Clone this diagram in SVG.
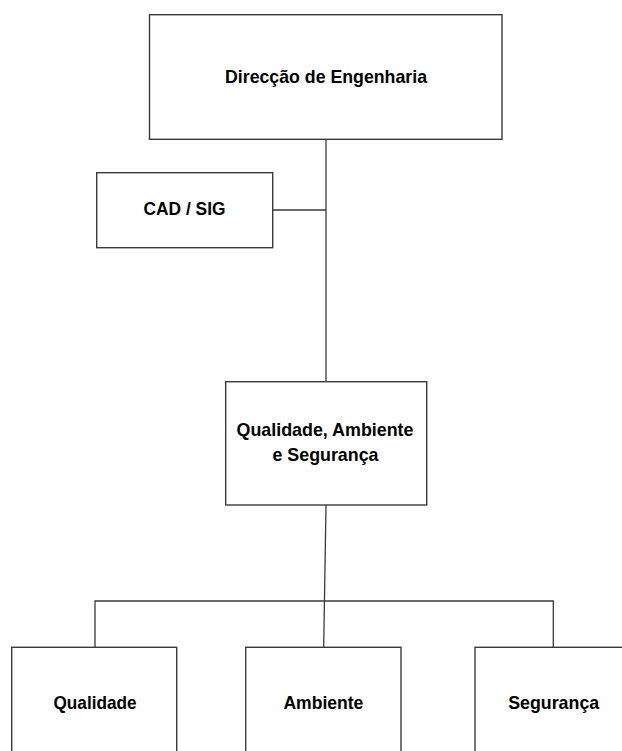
<svg xmlns="http://www.w3.org/2000/svg" width="622" height="751" viewBox="0 0 622 751">
<style>
.box{fill:#ffffff;stroke:#3a3a3a;stroke-width:1.4}
.ln{fill:none;stroke:#3a3a3a;stroke-width:1.3}
.t{font-family:"Liberation Sans",Arial,sans-serif;font-weight:bold;font-size:19px;fill:#000;text-anchor:middle}
</style>
<rect width="622" height="751" fill="#ffffff"/>
<g id="connectors">
<path class="ln" d="M326,139.5 V381.7"/>
<path class="ln" d="M272.7,210 H326"/>
<path class="ln" d="M326,505 L323.7,647.3"/>
<path class="ln" d="M95,647.3 V601 H553.3 V647.3"/>
</g>
<g id="direccao">
<rect class="box" x="149.5" y="14.7" width="352.5" height="124.6"/>
<text class="t" x="326" y="82.5" textLength="202" lengthAdjust="spacingAndGlyphs">Direcção de Engenharia</text>
</g>
<g id="cad">
<rect class="box" x="96.7" y="172.7" width="176" height="75"/>
<text class="t" x="184.5" y="215" textLength="82" lengthAdjust="spacingAndGlyphs">CAD / SIG</text>
</g>
<g id="qas">
<rect class="box" x="225.7" y="381.7" width="201" height="123.3"/>
<text class="t" x="325" y="436" textLength="177" lengthAdjust="spacingAndGlyphs">Qualidade, Ambiente</text>
<text class="t" x="325.5" y="461" textLength="106" lengthAdjust="spacingAndGlyphs">e Segurança</text>
</g>
<g id="qualidade">
<rect class="box" x="11.7" y="647.3" width="165" height="115"/>
<text class="t" x="95" y="709" textLength="83" lengthAdjust="spacingAndGlyphs">Qualidade</text>
</g>
<g id="ambiente">
<rect class="box" x="245.7" y="647.3" width="155.3" height="115"/>
<text class="t" x="323.4" y="708.5" textLength="80" lengthAdjust="spacingAndGlyphs">Ambiente</text>
</g>
<g id="seguranca">
<rect class="box" x="475" y="647.3" width="160" height="115"/>
<text class="t" x="553.7" y="708.5" textLength="91" lengthAdjust="spacingAndGlyphs">Segurança</text>
</g>
</svg>
